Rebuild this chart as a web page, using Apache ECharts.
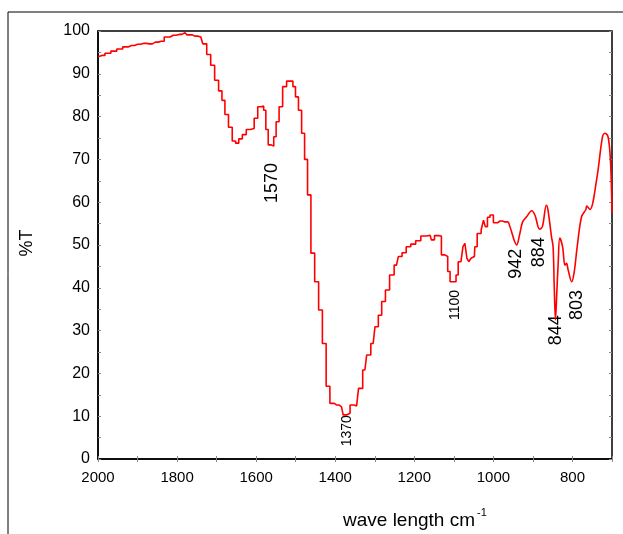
<!DOCTYPE html>
<html lang="en">
<head>
<meta charset="UTF-8">
<title>IR spectrum</title>
<script src="https://cdn.jsdelivr.net/npm/echarts@6/dist/echarts.min.js"></script>
<style>
  html, body { margin: 0; padding: 0; background: #fff; }
  #chart { width: 623px; height: 534px; }
</style>
</head>
<body>
<div id="chart"></div>
<script>
var stepWave = [2000, 1990, 1975, 1960, 1945, 1930, 1915, 1900, 1885, 1870, 1855, 1840, 1825, 1810, 1795, 1780, 1770, 1755, 1740, 1730,
  1720, 1710, 1700, 1690, 1683, 1675, 1665, 1656, 1648, 1640, 1630, 1620, 1610, 1600, 1592, 1584, 1578, 1573, 1566, 1558,
  1553, 1546, 1538, 1528, 1518, 1510, 1504, 1497, 1489, 1481, 1474, 1466, 1457, 1447, 1437, 1428, 1418, 1409, 1396, 1384,
  1376, 1367, 1358, 1346, 1336, 1325, 1316, 1304, 1295, 1287, 1278, 1268, 1257, 1245, 1236, 1226, 1215, 1203, 1190, 1177,
  1160, 1154, 1144, 1135, 1128, 1118, 1113, 1106, 1097, 1092, 1086, 1078, 1076, 1068, 1066, 1058, 1055, 1048, 1046, 1036,
  1026, 1024, 1017, 1013, 1004, 996, 983, 971, 962];
var stepT = [94.0, 94.3, 94.8, 95.3, 95.8, 96.3, 96.6, 96.9, 97.1, 97.0, 97.4, 97.6, 98.6, 99.0, 99.2, 99.6, 99.1, 98.8, 98.6, 97.0,
  94.5, 92.0, 88.5, 86.0, 83.8, 80.5, 77.5, 74.3, 73.8, 74.8, 75.8, 77.0, 77.2, 79.6, 82.3, 82.5, 81.5, 77.0, 73.4, 73.1,
  75.3, 78.8, 82.3, 87.0, 88.3, 88.3, 87.0, 84.6, 81.5, 76.1, 70.0, 61.7, 48.1, 41.4, 34.8, 27.0, 17.0, 13.0, 12.6, 12.2,
  10.3, 10.7, 12.6, 12.4, 16.5, 20.8, 24.3, 27.0, 30.9, 33.6, 36.8, 39.5, 43.0, 45.3, 47.3, 48.2, 49.6, 50.2, 51.0, 52.1,
  52.3, 51.2, 52.2, 52.1, 47.7, 47.3, 43.8, 41.4, 41.4, 43.0, 46.1, 46.5, 49.6, 50.4, 46.9, 46.1, 46.9, 47.3, 49.6, 52.7,
  53.5, 55.8, 54.3, 56.5, 57.0, 55.2, 55.6, 55.4, 55.4];

// smooth part, 962 -> 700 cm-1
var smoothWave = [962, 954, 947, 941, 934, 926, 916, 903, 895, 883, 876, 866, 862, 853, 849, 846, 843, 840, 836, 832,
  825, 819, 815, 811, 802, 796, 788, 777, 766, 764, 756, 739, 724, 718, 710, 704, 700];
var smoothT = [55.4, 53.1, 51.0, 50.0, 52.3, 55.4, 56.6, 58.0, 57.0, 53.7, 54.3, 59.3, 58.2, 51.9, 49.6, 40.0, 32.5, 38.0, 46.0, 51.6,
  49.6, 45.3, 45.7, 44.2, 41.4, 43.4, 49.6, 56.6, 58.3, 59.1, 58.3, 65.2, 75.3, 76.1, 75.3, 69.9, 57.5];

// peak labels: text, centre position in data units, font size
var peakText = ['1570', '1370', '1100', '942', '884', '844', '803'];
var peakWave = [1560, 1369, 1097, 943, 884, 842, 789];
var peakT = [64.5, 6.6, 36.0, 45.6, 48.3, 30.1, 36.0];
var peakSize = [18, 14, 14, 18, 18, 18, 18];

var xTicks = [2000, 1800, 1600, 1400, 1200, 1000, 800];

function pairs(xs, ys) {
  var out = [];
  for (var i = 0; i < xs.length; i++) out.push([xs[i], ys[i]]);
  return out;
}

var chart = echarts.init(document.getElementById('chart'));
var font = '"Liberation Sans", Arial, sans-serif';

var tickStyle = { show: true, inside: true, length: 3, lineStyle: { color: '#888', width: 1 } };

var option = {
  animation: false,
  grid: { left: 98, top: 31, right: 11, bottom: 75, show: true, borderColor: '#000', borderWidth: 1.5, backgroundColor: 'transparent' },
  xAxis: [{
    type: 'value', inverse: true, min: 700, max: 2000, interval: 100,
    axisLine: { show: true, lineStyle: { color: '#000', width: 1.5 } },
    axisTick: tickStyle,
    splitLine: { show: false },
    axisLabel: {
      color: '#000', fontFamily: font, fontSize: 15, margin: 11,
      formatter: function (v) { return xTicks.indexOf(v) >= 0 ? String(v) : ''; }
    }
  }, {
    type: 'value', inverse: true, min: 700, max: 2000, interval: 100, position: 'top',
    axisLine: { show: false }, axisTick: tickStyle, axisLabel: { show: false }, splitLine: { show: false }
  }],
  yAxis: [{
    type: 'value', min: 0, max: 100, interval: 5,
    axisLine: { show: true, lineStyle: { color: '#000', width: 1.5 } },
    axisTick: tickStyle,
    splitLine: { show: false },
    axisLabel: {
      color: '#000', fontFamily: font, fontSize: 16, margin: 8,
      formatter: function (v) { return v % 10 === 0 ? String(v) : ''; }
    }
  }, {
    type: 'value', min: 0, max: 100, interval: 5, position: 'right',
    axisLine: { show: false }, axisTick: tickStyle, axisLabel: { show: false }, splitLine: { show: false }
  }],
  series: [{
    type: 'line', step: 'middle', showSymbol: false, symbol: 'none',
    lineStyle: { color: '#ff0000', width: 1.6 },
    data: pairs(stepWave, stepT)
  }, {
    type: 'line', smooth: 0.35, showSymbol: false, symbol: 'none',
    lineStyle: { color: '#ff0000', width: 1.6 },
    data: pairs(smoothWave, smoothT)
  }]
};
chart.setOption(option);

var graphics = [
  { type: 'rect', shape: { x: 8, y: 12, width: 700, height: 600 }, style: { fill: 'none', stroke: '#000', lineWidth: 1 }, silent: true },
  { type: 'text', x: 27, y: 243, rotation: Math.PI / 2,
    style: { text: '%T', font: '18px ' + font, fill: '#000', textAlign: 'center', textVerticalAlign: 'middle' } },
  { type: 'text', x: 343, y: 521,
    style: { text: 'wave length cm', font: '19px ' + font, fill: '#000', textAlign: 'left', textVerticalAlign: 'middle' } },
  { type: 'text', x: 477, y: 513,
    style: { text: '-1', font: '11px ' + font, fill: '#000', textAlign: 'left', textVerticalAlign: 'middle' } }
];
for (var i = 0; i < peakText.length; i++) {
  var p = chart.convertToPixel({ gridIndex: 0 }, [peakWave[i], peakT[i]]);
  graphics.push({
    type: 'text', x: p[0], y: p[1], rotation: Math.PI / 2,
    style: { text: peakText[i], font: peakSize[i] + 'px ' + font, fill: '#000', textAlign: 'center', textVerticalAlign: 'middle' }
  });
}
chart.setOption({ graphic: graphics });
</script>
</body>
</html>
